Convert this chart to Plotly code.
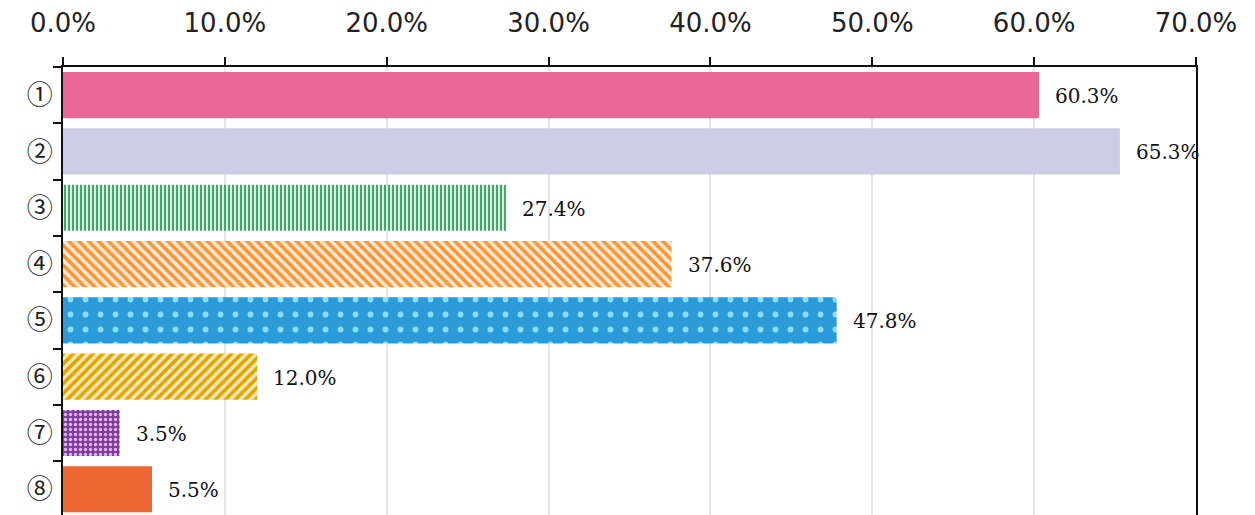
import plotly.graph_objects as go

categories = ["①", "②", "③", "④", "⑤", "⑥", "⑦", "⑧"]
values = [60.3, 65.3, 27.4, 37.6, 47.8, 12.0, 3.5, 5.5]
labels = ["60.3%", "65.3%", "27.4%", "37.6%", "47.8%", "12.0%", "3.5%", "5.5%"]
tick_vals = [0, 10, 20, 30, 40, 50, 60, 70]
tick_text = ["0.0%", "10.0%", "20.0%", "30.0%", "40.0%", "50.0%", "60.0%", "70.0%"]

fg_colors = ["#E9659A", "#CCCCE6", "#45A56A", "#F0983F", "#2A9AD8", "#DDA40E", "#7E3C98", "#EE6633"]
bg_colors = ["#E9659A", "#CCCCE6", "#D6F2E0", "#FCE6CC", "#2A9AD8", "#F8E8A8", "#7E3C98", "#EE6633"]
shapes = ["", "", "|", "\\", ".", "/", ".", ""]
sizes = [8, 8, 4, 7, 15, 7, 5, 8]
solids = [0.3, 0.3, 0.5, 0.5, 0.12, 0.5, 0.35, 0.3]
dot_fg = {4: "#8ADCF8", 6: "#E2B6F2"}

fig = go.Figure()
for i, (c, v) in enumerate(zip(categories, values)):
    fg = dot_fg.get(i, fg_colors[i])
    fig.add_trace(go.Bar(
        y=[c], x=[v], orientation="h",
        marker=dict(
            color=bg_colors[i],
            line=dict(width=0),
            pattern=dict(shape=shapes[i], fgcolor=fg, bgcolor=bg_colors[i],
                         size=sizes[i], solidity=solids[i], fillmode="replace"),
        ),
        showlegend=False, hoverinfo="skip",
    ))
    fig.add_annotation(x=v, y=c, text=labels[i], xanchor="left", xshift=14, yshift=-1,
                       showarrow=False, font=dict(family="DejaVu Serif", size=20, color="#111"))

fig.update_layout(
    width=1255, height=515,
    margin=dict(l=55, r=67, t=59, b=8),
    plot_bgcolor="white", paper_bgcolor="white",
    bargap=0.18,
    xaxis=dict(
        side="top", range=[0, 70], tickvals=tick_vals, ticktext=tick_text,
        showgrid=True, gridcolor="#E6E6E6", gridwidth=2,
        showline=True, linecolor="#111", linewidth=2,
        ticks="outside", ticklen=8, tickwidth=2, tickcolor="#111",
        ticklabelstandoff=15,
        tickfont=dict(family="DejaVu Sans", size=26, color="#222"),
        zeroline=False, fixedrange=True, automargin=False,
    ),
    yaxis=dict(
        type="category", categoryorder="array", categoryarray=categories,
        range=[7.457, -0.5],
        showline=True, linecolor="#111", linewidth=2, mirror=True,
        ticks="outside", ticklen=8, tickwidth=2, tickcolor="#111", tickson="boundaries",
        tickfont=dict(family="Noto Sans CJK JP", size=26, color="#222"),
        ticklabelstandoff=3,
        showgrid=False, zeroline=False, automargin=False,
    ),
)

fig.write_html("out.html")
